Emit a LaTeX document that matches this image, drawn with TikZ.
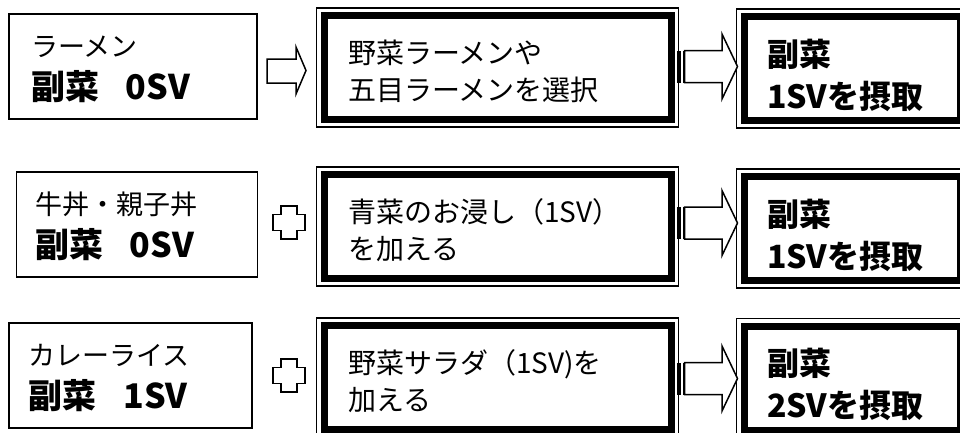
\documentclass[tikz,border=0pt]{standalone}
\usepackage{fontspec}
\setmainfont{Noto Sans CJK JP}

\tikzset{
    menubox/.style={draw, line width=1.5pt, inner sep=0pt, minimum height=105pt,
        text width=204pt, align=left, text height=24pt, text depth=44pt,
        font=\fontsize{27pt}{43pt}\selectfont},
    dishbox/.style={draw, line width=7pt, inner sep=0pt, minimum width=347pt,
        minimum height=104pt, text width=299pt, align=left,
        text height=24pt, text depth=32pt,
        font=\fontsize{28pt}{37pt}\selectfont},
    resultbox/.style={draw, line width=7pt, inner sep=0pt, minimum width=216pt,
        minimum height=104pt, text width=170pt, align=left,
        text height=27pt, text depth=32pt,
        font=\bfseries\fontsize{32pt}{42pt}\selectfont},
    rim/.style={line width=1.1pt},
    outline/.style={line width=1.5pt, line join=miter, fill=white},
}

\begin{document}
\begin{tikzpicture}[x=1pt, y=-1pt]
    \useasboundingbox[fill=white] (0,0) rectangle (960,432);

    % 左：メニュー
    \node[menubox, minimum width=248pt] (k1) at (133,66.5)
        {ラーメン\\{\bfseries\fontsize{34pt}{43pt}\selectfont 副菜\hspace{27pt}0SV}};
    \node[menubox, minimum width=241pt] (k2) at (137,224.5)
        {牛丼・親子丼\\{\bfseries\fontsize{34pt}{43pt}\selectfont 副菜\hspace{27pt}0SV}};
    \node[menubox, minimum width=243pt] (k3) at (130.5,375.5)
        {カレーライス\\{\bfseries\fontsize{34pt}{43pt}\selectfont 副菜\hspace{27pt}1SV}};

    % 中：選び方
    \node[dishbox] (m1) at (497.5,67.5) {野菜ラーメンや\\五目ラーメンを選択};
    \node[dishbox] (m2) at (497.5,226.5) {青菜のお浸し（1SV）\\を加える};
    \node[dishbox] (m3) at (497.5,377.5) {野菜サラダ（1SV)を\\加える};

    % 右：結果
    \node[resultbox] (r1) at (852,68.5) {副菜\\1SVを摂取};
    \node[resultbox] (r2) at (852,228.5) {副菜\\1SVを摂取};
    \node[resultbox] (r3) at (852,378) {副菜\\2SVを摂取};

    % 太枠の外側の細線
    \foreach \n in {m1,m2,m3,r1,r2,r3}
        \draw[rim] ([xshift=-4pt,yshift=4pt]\n.north west)
            rectangle ([xshift=4pt,yshift=-4pt]\n.south east);

    % 白抜き矢印（1段目）
    \draw[outline] (267,59) -- (296,59) -- (296,47) -- (306,70.5)
        -- (296,94) -- (296,83) -- (267,83) -- cycle;

    % 十字（2・3段目）
    \foreach \c in {222.5,375.5}
        \draw[outline] (281,\c-16.5) -- (297,\c-16.5) -- (297,\c-8) -- (305,\c-8)
            -- (305,\c+8) -- (297,\c+8) -- (297,\c+16.5) -- (281,\c+16.5)
            -- (281,\c+8) -- (273,\c+8) -- (273,\c-8) -- (281,\c-8) -- cycle;

    % しま模様の矢印：中 → 右
    \foreach \c in {66.5,223,378.5} {
        \fill (677,\c-16) rectangle (681,\c+16);
        \fill (682.5,\c-16) rectangle (684.5,\c+16);
        \draw[outline] (684.5,\c-16) -- (722,\c-16) -- (722,\c-32.5) -- (737.5,\c)
            -- (722,\c+32.5) -- (722,\c+16) -- (684.5,\c+16) -- cycle;
    }
\end{tikzpicture}
\end{document}
